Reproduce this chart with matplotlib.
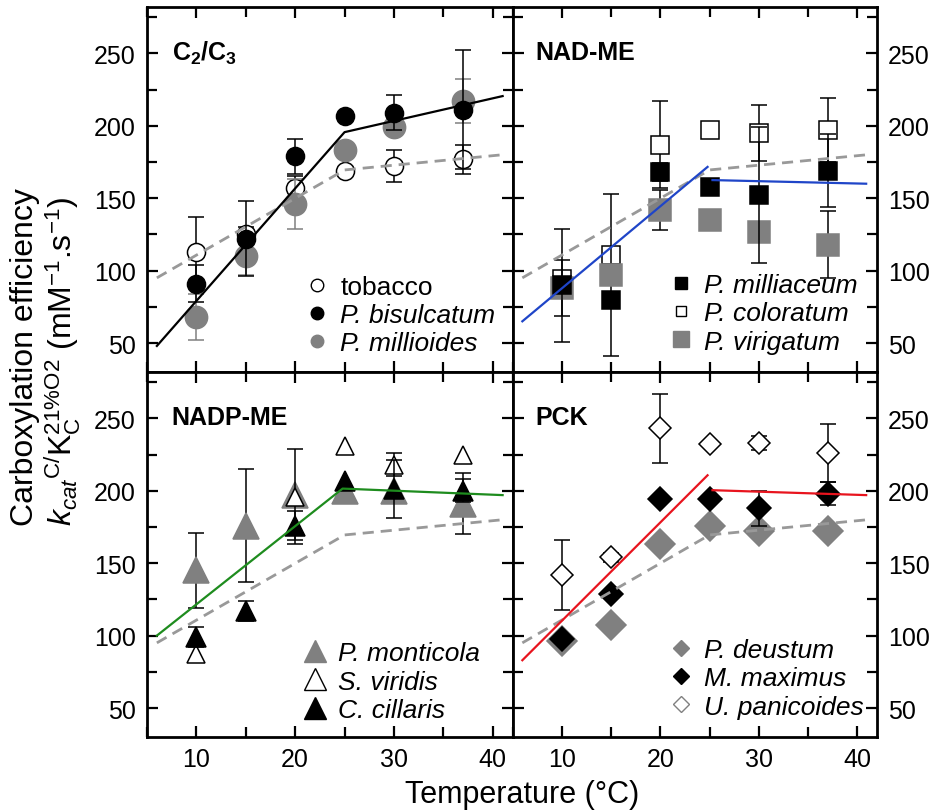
import numpy as np
import matplotlib
matplotlib.use("Agg")
import matplotlib.pyplot as plt
from matplotlib.lines import Line2D
from matplotlib.ticker import MultipleLocator

plt.rcParams['font.family'] = ['Liberation Sans', 'DejaVu Sans']
plt.rcParams['mathtext.fontset'] = 'custom'
plt.rcParams['mathtext.rm'] = 'Liberation Sans'
plt.rcParams['mathtext.it'] = 'Liberation Sans:italic'
plt.rcParams['mathtext.bf'] = 'Liberation Sans:bold'

# temperatures (deg C)
temps = np.array([10, 15, 20, 25, 30, 37])

# C3 reference fit (dashed grey, same in every panel)
ref_x = [6, 25, 41]
ref_y = [95, 169.5, 180]

# --- C2/C3 ---
tobacco = [113, 125, 157, 169, 172, 177]
tobacco_err = [24, 5, 8, 0, 11, 10]
bisulcatum = [91, 122, 179, 207, 209, 211]
bisulcatum_err = [13, 26, 12, 0, 12, 41]
millioides = [68, 110, 146, 183, 199, 217]
millioides_err = [16, 13, 17, 0, 0, 15]
c2c3_fit_x = [6, 25, 41]
c2c3_fit_y = [48, 195.6, 220.5]

# --- NAD-ME ---
milliaceum = [90, 80, 168, 158, 152, 169]
milliaceum_err = [39, 0, 6, 0, 47, 25]
coloratum = [94, 111, 187, 197, 195, 197]
coloratum_err = [0, 0, 30, 0, 19, 22]
virigatum = [88, 97, 142, 135, 127, 118]
virigatum_err = [19, 56, 14, 0, 0, 23]
nad_fit1_x, nad_fit1_y = [6, 24.8], [65, 171.6]
nad_fit2_x, nad_fit2_y = [25.3, 40.9], [162.5, 160]

# --- NADP-ME ---
monticola = [145, 176, 197, 200, 200, 191]
monticola_err = [26, 39, 0, 0, 0, 21]
viridis = [87, np.nan, 196, 231, 218, 225]
viridis_err = [0, 0, 33, 0, 8, 0]
cillaris = [99, 117, 176, 207, 201, 200]
cillaris_err = [7, 7, 10, 0, 20, 8]
nadp_fit_x = [6, 24.8, 41]
nadp_fit_y = [100, 201.5, 197]

# --- PCK ---
deustum = [96, 107, 163, 176, 172, 172]
deustum_err = [3, 3, 3, 3, 3, 3]
maximus = [98, 129, 194, 194, 188, 198]
maximus_err = [0, 0, 0, 0, 12, 8]
panicoides = [142, 154, 243, 232, 233, 226]
panicoides_err = [24, 3, 24, 0, 5, 20]
pck_fit1_x, pck_fit1_y = [6, 24.8], [83, 210.7]
pck_fit2_x, pck_fit2_y = [25.3, 40.9], [200.4, 197]

GREY = '#808080'
W, H = 936, 812


def series(ax, y, err, marker, ms, face, edge, ecol, z):
    y = np.asarray(y, float)
    err = np.asarray(err, float)
    m = err > 0
    ax.errorbar(temps[m], y[m], yerr=err[m], fmt='none', ecolor=ecol,
                elinewidth=1.1, capsize=5.5, capthick=1.1, zorder=z)
    ax.plot(temps, y, ls='none', marker=marker, ms=ms, mfc=face, mec=edge,
            mew=1.1, zorder=z + 0.5)


def proxy(marker, ms, face, edge):
    return Line2D([], [], ls='none', marker=marker, ms=ms, mfc=face,
                  mec=edge, mew=1.0)


def setup(ax, right):
    ax.set_xlim(5, 42)
    ax.set_ylim(30, 282)
    ax.xaxis.set_major_locator(MultipleLocator(10))
    ax.xaxis.set_minor_locator(MultipleLocator(5))
    ax.yaxis.set_major_locator(MultipleLocator(50))
    ax.yaxis.set_minor_locator(MultipleLocator(25))
    ax.tick_params(which='both', direction='in', top=True, right=True,
                   width=1.6, labelsize=18)
    ax.tick_params(which='major', length=8)
    ax.tick_params(which='minor', length=7)
    ax.tick_params(axis='x', pad=7)
    ax.tick_params(axis='y', pad=8)
    if right:
        ax.tick_params(axis='y', labelleft=False, labelright=True)
    for s in ax.spines.values():
        s.set_linewidth(2.0)
    ax.plot(ref_x, ref_y, ls=(0, (4, 2.5)), color='#999999', lw=2.0, zorder=6)


def add_legend(ax, handles, labels, anchor, italic_from=0):
    leg = ax.legend(handles, labels, frameon=False, fontsize=19,
                    handlelength=0.8, handletextpad=0.5, labelspacing=0.16,
                    borderpad=0, borderaxespad=0, loc='upper left',
                    bbox_to_anchor=anchor)
    for t in leg.get_texts()[italic_from:]:
        t.set_style('italic')
    return leg


xl, xm, xr = 147 / W, 512.5 / W, 877 / W
yt, ym, yb = 1 - 8 / H, 1 - 373 / H, 1 - 738 / H

fig = plt.figure(figsize=(9.36, 8.12), dpi=100)
ax1 = fig.add_axes([xl, ym, xm - xl, yt - ym])
ax2 = fig.add_axes([xm, ym, xr - xm, yt - ym])
ax3 = fig.add_axes([xl, yb, xm - xl, ym - yb])
ax4 = fig.add_axes([xm, yb, xr - xm, ym - yb])

for ax, right in [(ax1, False), (ax2, True), (ax3, False), (ax4, True)]:
    setup(ax, right)
for ax in (ax1, ax2):
    ax.tick_params(axis='x', labelbottom=False)

# C2/C3
series(ax1, tobacco, tobacco_err, 'o', 13, 'white', 'black', 'black', 2)
series(ax1, millioides, millioides_err, 'o', 16, GREY, GREY, GREY, 3)
series(ax1, bisulcatum, bisulcatum_err, 'o', 13, 'black', 'black', 'black', 4)
ax1.plot(c2c3_fit_x, c2c3_fit_y, color='black', lw=1.6, zorder=7)
ax1.text(0.068, 0.875, r'$\mathbf{C_2/C_3}$', transform=ax1.transAxes,
         fontsize=18, va='center', ha='left')
add_legend(ax1, [proxy('o', 9, 'white', 'black'), proxy('o', 9, 'black', 'black'),
                 proxy('o', 9, GREY, GREY)],
           ['tobacco', 'P. bisulcatum', 'P. millioides'],
           (0.435, 0.266), italic_from=1)

# NAD-ME
series(ax2, coloratum, coloratum_err, 's', 12.5, 'white', 'black', 'black', 2)
series(ax2, virigatum, virigatum_err, 's', 16, GREY, GREY, 'black', 3)
series(ax2, milliaceum, milliaceum_err, 's', 12.5, 'black', 'black', 'black', 4)
ax2.plot(nad_fit1_x, nad_fit1_y, color='#1f45c8', lw=1.6, zorder=7)
ax2.plot(nad_fit2_x, nad_fit2_y, color='#1f45c8', lw=1.6, zorder=7)
ax2.text(0.063, 0.877, 'NAD-ME', transform=ax2.transAxes, fontsize=18,
         fontweight='bold', va='center', ha='left')
add_legend(ax2, [proxy('s', 8.5, 'black', 'black'), proxy('s', 7, 'white', 'black'),
                 proxy('s', 11, GREY, GREY)],
           ['P. milliaceum', 'P. coloratum', 'P. virigatum'], (0.432, 0.271))

# NADP-ME
series(ax3, monticola, monticola_err, '^', 19, GREY, GREY, 'black', 2)
series(ax3, viridis, viridis_err, '^', 13, 'white', 'black', 'black', 3)
series(ax3, cillaris, cillaris_err, '^', 15, 'black', 'black', 'black', 4)
ax3.plot(nadp_fit_x, nadp_fit_y, color='#1e8c1e', lw=1.6, zorder=7)
ax3.text(0.068, 0.877, 'NADP-ME', transform=ax3.transAxes, fontsize=18,
         fontweight='bold', va='center', ha='left')
add_legend(ax3, [proxy('^', 16, GREY, GREY), proxy('^', 16, 'white', 'black'),
                 proxy('^', 16, 'black', 'black')],
           ['P. monticola', 'S. viridis', 'C. cillaris'], (0.43, 0.262))

# PCK
series(ax4, deustum, deustum_err, 'D', 15, GREY, GREY, GREY, 2)
series(ax4, maximus, maximus_err, 'D', 12, 'black', 'black', 'black', 3)
series(ax4, panicoides, panicoides_err, 'D', 11.5, 'white', 'black', 'black', 4)
ax4.plot(pck_fit1_x, pck_fit1_y, color='#e8141e', lw=1.6, zorder=7)
ax4.plot(pck_fit2_x, pck_fit2_y, color='#e8141e', lw=1.6, zorder=7)
ax4.text(0.063, 0.877, 'PCK', transform=ax4.transAxes, fontsize=18,
         fontweight='bold', va='center', ha='left')
add_legend(ax4, [proxy('D', 8, GREY, GREY), proxy('D', 8, 'black', 'black'),
                 proxy('D', 8, 'white', GREY)],
           ['P. deustum', 'M. maximus', 'U. panicoides'], (0.432, 0.271))

fig.text(522 / W, 1 - 795 / H, 'Temperature (°C)', fontsize=22,
         ha='center', va='center')
fig.text(25 / W, 1 - 357 / H, 'Carboxylation efficiency', fontsize=23,
         rotation=90, ha='center', va='center')
fig.text(63 / W, 1 - 361 / H,
         r'$\mathit{k}_{\mathit{cat}}{}^{\mathrm{C/}}\mathrm{K}_{\mathrm{C}}^{\mathrm{21\%O2}}$ (mM$^{\mathrm{-1}}$.s$^{\mathrm{-1}}$)',
         fontsize=23, rotation=90, ha='center', va='center')

fig.savefig('out.png', dpi=100)
